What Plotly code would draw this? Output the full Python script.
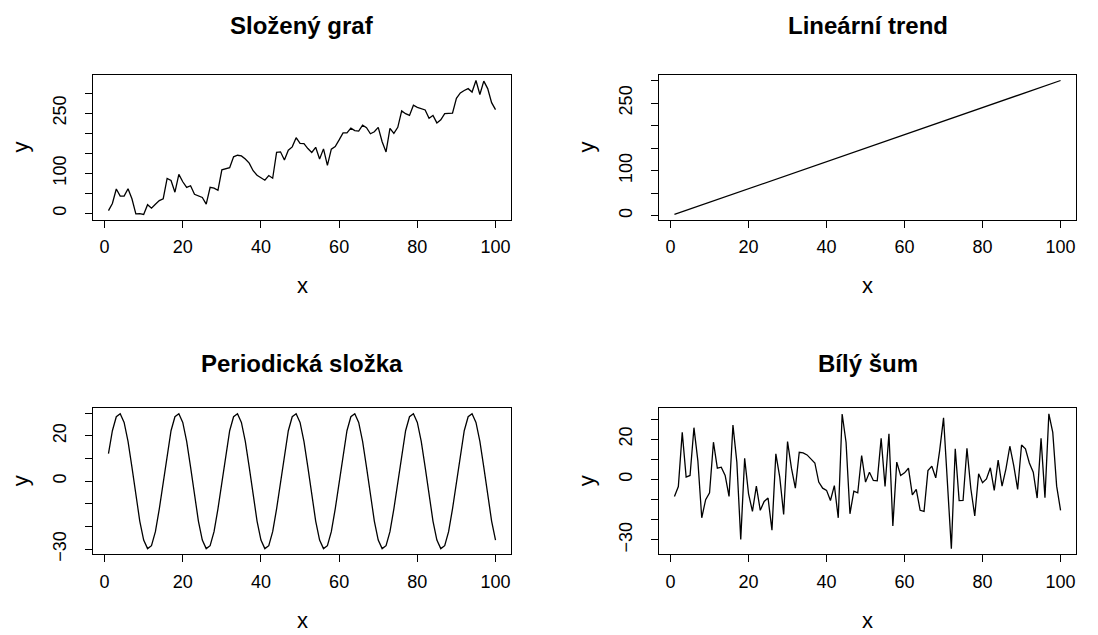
import plotly.graph_objects as go

x_vals = list(range(1, 101))

trend = [3, 6, 9, 12, 15, 18, 21, 24, 27, 30,
         33, 36, 39, 42, 45, 48, 51, 54, 57, 60,
         63, 66, 69, 72, 75, 78, 81, 84, 87, 90,
         93, 96, 99, 102, 105, 108, 111, 114, 117, 120,
         123, 126, 129, 132, 135, 138, 141, 144, 147, 150,
         153, 156, 159, 162, 165, 168, 171, 174, 177, 180,
         183, 186, 189, 192, 195, 198, 201, 204, 207, 210,
         213, 216, 219, 222, 225, 228, 231, 234, 237, 240,
         243, 246, 249, 252, 255, 258, 261, 264, 267, 270,
         273, 276, 279, 282, 285, 288, 291, 294, 297, 300]

periodic = [12.2, 22.3, 28.5, 29.8, 26.0, 17.6, 6.2, -6.2, -17.6, -26.0,
            -29.8, -28.5, -22.3, -12.2, 0.0, 12.2, 22.3, 28.5, 29.8, 26.0,
            17.6, 6.2, -6.2, -17.6, -26.0, -29.8, -28.5, -22.3, -12.2, 0.0,
            12.2, 22.3, 28.5, 29.8, 26.0, 17.6, 6.2, -6.2, -17.6, -26.0,
            -29.8, -28.5, -22.3, -12.2, 0.0, 12.2, 22.3, 28.5, 29.8, 26.0,
            17.6, 6.2, -6.2, -17.6, -26.0, -29.8, -28.5, -22.3, -12.2, 0.0,
            12.2, 22.3, 28.5, 29.8, 26.0, 17.6, 6.2, -6.2, -17.6, -26.0,
            -29.8, -28.5, -22.3, -12.2, 0.0, 12.2, 22.3, 28.5, 29.8, 26.0,
            17.6, 6.2, -6.2, -17.6, -26.0, -29.8, -28.5, -22.3, -12.2, 0.0,
            12.2, 22.3, 28.5, 29.8, 26.0, 17.6, 6.2, -6.2, -17.6, -26.0]

noise = [-8.4, -3.5, 23.4, 1.2, 2.0, 25.7, 9.4, -19.0, -10.0, -6.6,
         18.5, 5.6, 6.1, 2.0, -8.4, 27.0, 8.6, -29.7, 10.5, -7.1,
         -15.8, -3.3, -15.3, -10.9, -9.2, -25.2, 12.7, 1.2, -17.3, 18.8,
         5.6, -4.3, 13.5, 13.2, 12.2, 10.2, 8.2, -1.3, -4.3, -5.4,
         -10.4, -3.0, -19.0, 32.5, 18.5, -17.0, -5.8, -6.6, 11.9, -1.3,
         3.6, -0.5, -0.7, 20.4, -3.5, 22.7, -23.0, 8.6, 2.0, 3.3,
         5.6, -7.6, -4.9, -15.3, -15.8, 4.4, 6.6, 0.8, 14.3, 30.6,
         -4.6, -34.3, 15.2, -10.5, -10.4, 15.5, -4.6, -18.1, 2.8, -1.6,
         0.3, 5.8, -5.4, 9.6, -3.3, 5.3, 16.5, 6.9, -4.9, 17.1,
         15.2, 8.2, 3.6, -9.2, 20.4, -9.0, 32.6, 23.4, -3.3, -15.3]

# composite series = sum of the three components
composite = [t + p + n for t, p, n in zip(trend, periodic, noise)]

titles = ["Složený graf", "Lineární trend", "Periodická složka", "Bílý šum"]

x_ticks = [0, 20, 40, 60, 80, 100]
x_tick_text = ["0", "20", "40", "60", "80", "100"]
big_ticks = [0, 50, 100, 150, 200, 250, 300]
big_tick_text = ["0", "", "100", "", "", "250", ""]
small_ticks = [-30, -20, -10, 0, 10, 20, 30]
small_tick_text = ["\u221230", "", "", "0", "", "20", ""]

W, H = 1098, 635
FONT = "Liberation Sans, Arial, Helvetica, sans-serif"

# plot boxes in pixels: (left, top, right, bottom)
boxes = [(85, 68, 503, 214.5), (651, 68, 1068, 214.5),
         (85, 405.5, 503, 553), (651, 405.5, 1068, 553)]
title_y = [18, 18, 360, 360]
series = [composite, trend, periodic, noise]
yticks = [(big_ticks, big_tick_text), (big_ticks, big_tick_text),
          (small_ticks, small_tick_text), (small_ticks, small_tick_text)]


def pad_range(vals):
    lo, hi = min(vals), max(vals)
    d = (hi - lo) * 0.04
    return [lo - d, hi + d]


fig = go.Figure()
annotations = []
for i, (box, ys, (tv, tt), title) in enumerate(zip(boxes, series, yticks, titles)):
    n = "" if i == 0 else str(i + 1)
    xa = "x" + n
    ya = "y" + n
    fig.add_trace(go.Scatter(x=x_vals, y=ys, mode="lines",
                             line=dict(color="black", width=1.3),
                             xaxis=xa, yaxis=ya, showlegend=False,
                             hoverinfo="skip"))
    l, t, r, b = box
    xdom = [l / W, r / W]
    ydom = [(H - b) / H, (H - t) / H]
    axis_common = dict(showline=True, mirror=True, linecolor="black", linewidth=1,
                       ticks="outside", ticklen=7, tickcolor="black", tickwidth=1,
                       showgrid=False, zeroline=False,
                       tickfont=dict(family=FONT, size=18, color="black"))
    fig.update_layout(**{
        "xaxis" + n: dict(domain=xdom, range=[-2.96, 103.96], anchor=ya,
                          tickvals=x_ticks, ticktext=x_tick_text,
                          ticklabelstandoff=4, **axis_common),
        "yaxis" + n: dict(domain=ydom, range=pad_range(ys), anchor=xa,
                          tickvals=tv, ticktext=tt, tickangle=-90,
                          ticklabelstandoff=12, **axis_common),
    })
    cx = (l + r) / 2
    annotations.append(dict(text="<b>" + title + "</b>", x=cx / W, y=(H - title_y[i]) / H,
                            xref="paper", yref="paper", showarrow=False,
                            xanchor="center", yanchor="middle",
                            font=dict(family=FONT, size=24, color="black")))
    annotations.append(dict(text="x", x=cx / W, y=(H - (b + 67)) / H,
                            xref="paper", yref="paper", showarrow=False,
                            xanchor="center", yanchor="middle",
                            font=dict(family=FONT, size=22, color="black")))
    annotations.append(dict(text="y", x=(l - 73) / W, y=(H - (t + b) / 2) / H,
                            xref="paper", yref="paper", showarrow=False,
                            xanchor="center", yanchor="middle", textangle=-90,
                            font=dict(family=FONT, size=22, color="black")))

fig.update_layout(width=W, height=H, margin=dict(l=0, r=0, t=0, b=0),
                  plot_bgcolor="white", paper_bgcolor="white",
                  annotations=annotations, showlegend=False)

fig.write_html("out.html")
